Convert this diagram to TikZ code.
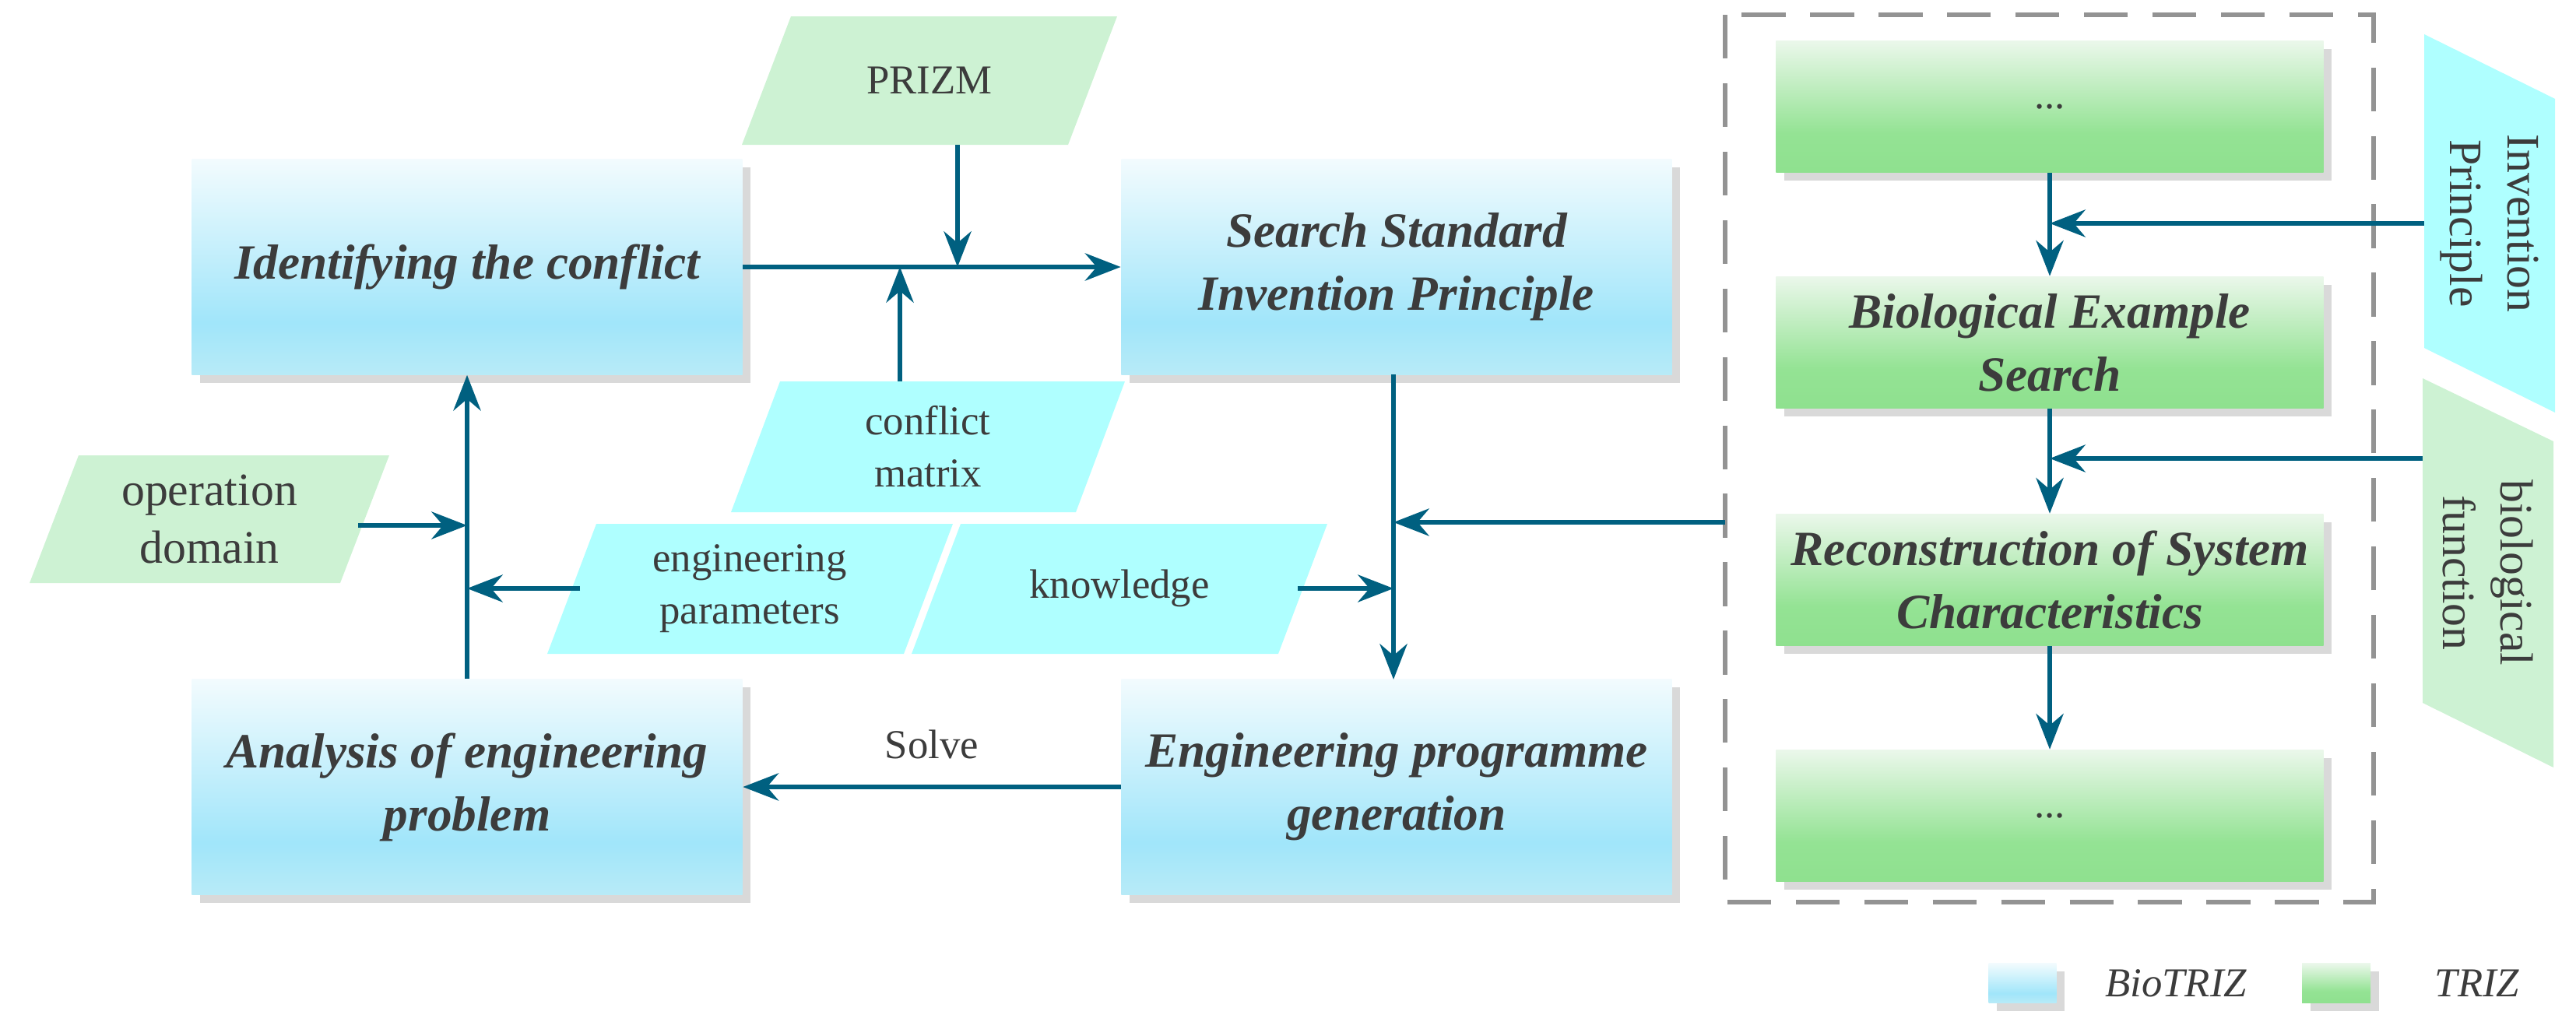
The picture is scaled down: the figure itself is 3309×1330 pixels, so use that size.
\documentclass[tikz,border=0pt]{standalone}
\usepackage{fontspec}
\setmainfont{Liberation Serif}
\usetikzlibrary{shadows,arrows.meta}
\definecolor{arr}{RGB}{0,96,128}
\definecolor{txt}{RGB}{60,60,60}
\definecolor{cyanp}{RGB}{175,255,255}
\definecolor{greenp}{RGB}{205,242,211}
\pgfdeclareverticalshading{blueshade}{100bp}{rgb(0bp)=(0.72,0.92,0.97); rgb(25bp)=(0.72,0.92,0.97); rgb(37bp)=(0.63,0.90,0.98); rgb(75bp)=(0.95,0.985,0.995); rgb(100bp)=(0.95,0.985,0.995)}
\pgfdeclareverticalshading{greenshade}{100bp}{rgb(0bp)=(0.56,0.88,0.56); rgb(25bp)=(0.56,0.88,0.56); rgb(40bp)=(0.58,0.89,0.58); rgb(75bp)=(0.92,0.97,0.92); rgb(100bp)=(0.92,0.97,0.92)}
\tikzset{
  box/.style={rectangle, shading=blueshade, minimum width=7.07cm, minimum height=2.76cm, align=center, text=txt, font=\fontsize{18}{23}\selectfont\bfseries\itshape, drop shadow={shadow xshift=3pt, shadow yshift=-3pt, opacity=0.3, fill=gray}},
  gbox/.style={box, shading=greenshade, minimum width=7.03cm, minimum height=1.69cm},
  lab/.style={align=center, text=txt, font=\fontsize{15}{19}\selectfont},
  ar/.style={draw=arr, line width=1.7pt, -{Stealth[length=13pt,width=10pt]}},
}
\begin{document}
\begin{tikzpicture}[x=0.01cm,y=-0.01cm]
\useasboundingbox (0,0) rectangle (3309,1330);
% boxes
\node[box] (ident) at (600,343) {Identifying the conflict};
\node[box] (search) at (1794,343) {Search Standard\\Invention Principle};
\node[box] (anal) at (600,1011) {Analysis of engineering\\problem};
\node[box] (eng) at (1794,1011) {Engineering programme\\generation};
% parallelograms
\fill[greenp] (1016,21) -- (1435,21) -- (1372,186) -- (953,186) -- cycle;
\node[lab] (prizm) at (1194,103) {PRIZM};
\fill[cyanp] (1002,490) -- (1445,490) -- (1382,658) -- (939,658) -- cycle;
\node[lab] (cm) at (1192,574) {conflict\\matrix};
\fill[cyanp] (766,673) -- (1224,673) -- (1161,840) -- (703,840) -- cycle;
\node[lab] (ep) at (963,756) {engineering\\parameters};
\fill[cyanp] (1234,673) -- (1705,673) -- (1642,840) -- (1171,840) -- cycle;
\node[lab] (kn) at (1438,756) {knowledge};
\fill[greenp] (101,585) -- (500,585) -- (437,749) -- (38,749) -- cycle;
\node[lab, font=\fontsize{17}{21}\selectfont] (od) at (269,667) {operation\\domain};
% dashed frame
\draw[gray!85, line width=1.6pt, dash pattern=on 16pt off 9pt] (2216,19) rectangle (3049,1159);
\coordinate (fl) at (2216,671);
% green boxes
\node[gbox] (g1) at (2633,137) {\normalfont\fontsize{15}{19}\selectfont ...};
\node[gbox] (g2) at (2633,440) {Biological Example\\Search};
\node[gbox] (g3) at (2633,745) {Reconstruction of System\\Characteristics};
\node[gbox] (g4) at (2633,1048) {\normalfont\fontsize{15}{19}\selectfont ...};
% tabs
\fill[cyanp] (3114,44) -- (3282,127) -- (3282,530) -- (3114,447) -- cycle;
\node[lab, rotate=-90, font=\fontsize{17}{21}\selectfont] (ip) at (3198,287) {Invention\\Principle};
\fill[greenp] (3112,486) -- (3280,567) -- (3280,986) -- (3112,903) -- cycle;
\node[lab, rotate=-90, font=\fontsize{17}{21}\selectfont] (bf) at (3196,736) {biological\\function};
% connectors left
\coordinate (jn1) at (1230,343);
\coordinate (jn2) at (1156,343);
\draw[ar] (ident.east) -- (search.west);
\draw[ar] (1230,186) -- (jn1);
\draw[ar] (1156,490) -- (jn2);
\draw[ar] (anal.north) -- (ident.south);
\coordinate (v1) at (600,675);
\coordinate (v2) at (600,756);
\draw[ar] (460,675) -- (v1);
\draw[ar] (745,756) -- (v2);
\draw[ar] (eng.west) -- node[lab, above=6pt] {Solve} (anal.east);
\coordinate (sb) at (1790,481);
\coordinate (et) at (1790,873);
\draw[ar] (sb) -- (et);
\coordinate (vr) at (1790,671);
\coordinate (vk) at (1790,756);
\draw[ar] (fl) -- (vr);
\draw[ar] (1667,756) -- (vk);
% right connectors
\draw[ar] (g1.south) -- (g2.north);
\draw[ar] (g2.south) -- (g3.north);
\draw[ar] (g3.south) -- (g4.north);
\coordinate (i1) at (2633,287);
\coordinate (i2) at (2633,589);
\draw[ar] (3114,287) -- (i1);
\draw[ar] (3112,589) -- (i2);
% legend
\node[box, minimum width=0.87cm, minimum height=0.51cm] (lb) at (2598,1263) {};
\node[lab, font=\fontsize{15}{19}\selectfont\itshape] (lbt) at (2795,1263) {BioTRIZ};
\node[gbox, minimum width=0.88cm, minimum height=0.51cm] (lg) at (3001,1263) {};
\node[lab, font=\fontsize{15}{19}\selectfont\itshape] (lgt) at (3182,1263) {TRIZ};
\end{tikzpicture}
\end{document}
